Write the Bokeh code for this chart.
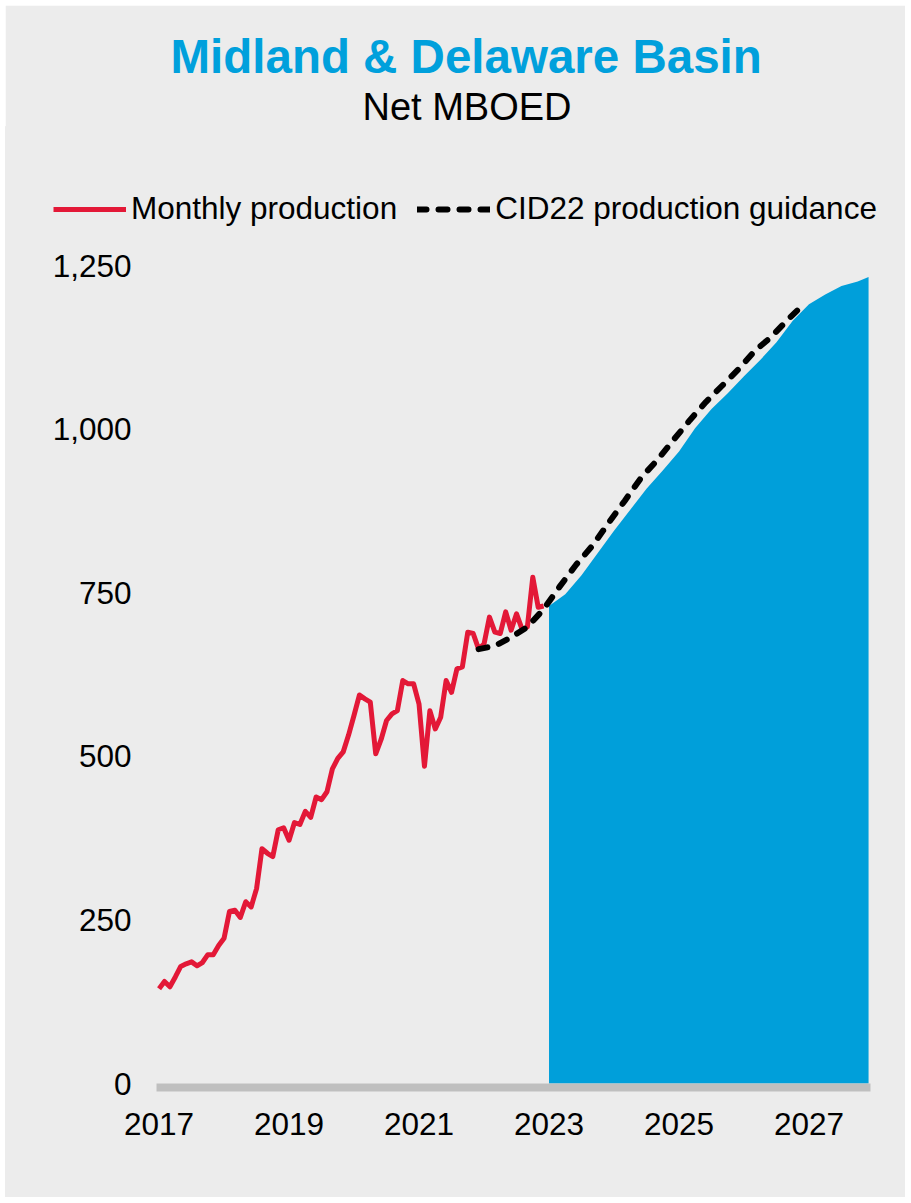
from bokeh.plotting import figure
from bokeh.models import (Range1d, FixedTicker, NumeralTickFormatter, Title,
                          Legend, LegendItem, ColumnDataSource)
from bokeh.embed import file_html
from bokeh.resources import INLINE

# ---------------- data ----------------
START_YEAR = 2017

# Monthly production, Jan 2017 - Dec 2022 (Net MBOED)
production = [
    145, 156, 148, 163, 179, 183, 186, 180, 185, 197, 197, 211,
    222, 263, 265, 254, 278, 270, 298, 359, 352, 347, 388, 391,
    372, 399, 396, 416, 407, 438, 434, 446, 481, 497, 507, 533,
    563, 594, 588, 583, 504, 526, 555, 565, 570, 616, 611, 611,
    580, 485, 570, 542, 560, 616, 598, 634, 637, 690, 688, 664,
    672, 713, 690, 688, 721, 693, 718, 695, 698, 774, 728, 730,
]

# CID22 production guidance (months after Jan 2017)
guidance_months = [59, 62, 65, 68, 71, 74, 77, 80, 83, 86, 89, 92, 95,
                   98, 101, 104, 107, 110, 113, 116, 119]
guidance = [664, 669, 682, 698, 725, 760, 793, 822, 857, 891, 926, 953,
            984, 1014, 1042, 1067, 1092, 1120, 1141, 1167, 1191]

# Outlook area (months after Jan 2017)
outlook_months = [72, 75, 78, 81, 84, 87, 90, 93, 96, 99, 102, 105, 108,
                  111, 114, 117, 120, 123, 126, 129, 131]
outlook = [730, 748, 777, 811, 845, 877, 909, 937, 966, 1002, 1031, 1055,
           1081, 1106, 1133, 1166, 1191, 1206, 1219, 1226, 1233]

x_ticks = [2017, 2019, 2021, 2023, 2025, 2027]
y_ticks = [0, 250, 500, 750, 1000, 1250]

title_text = "Midland & Delaware Basin"
subtitle_text = "Net MBOED"
legend_labels = ["Monthly production", "CID22 production guidance"]

# ---------------- styles ----------------
BG = "#ececec"
BLUE = "#009fda"
RED = "#e31837"
FONT = "Liberation Sans"

# plotted window (x in years, y in MBOED) inside the wider canvas range
X_LO, X_HI = 2016.96, 2027.946
Y_LO = -6

prod_src = ColumnDataSource(dict(
    x=[START_YEAR + i / 12 for i in range(len(production))], y=production))
guide_src = ColumnDataSource(dict(
    x=[START_YEAR + m / 12 for m in guidance_months], y=guidance))
out_src = ColumnDataSource(dict(
    x=[START_YEAR + m / 12 for m in outlook_months], y=outlook))

p = figure(width=900, height=1192, output_backend="svg", toolbar_location=None,
           title=None, title_location=None,
           x_range=Range1d(2014.637, 2028.485), y_range=Range1d(-174.13, 1461.35),
           background_fill_color=BG, border_fill_color=BG,
           outline_line_color=BG, outline_line_width=3,
           min_border=0, min_border_top=122)
p.margin = (5, 5, 5, 5)

p.varea(x="x", y1=0, y2="y", source=out_src, fill_color=BLUE)
red = p.line(x="x", y="y", source=prod_src, line_color=RED, line_width=5,
             line_join="round")
dash = p.line(x="x", y="y", source=guide_src, line_color="black",
              line_width=6, line_dash="9 12", line_cap="round")

p.grid.visible = False

xa = p.xaxis[0]
xa.fixed_location = Y_LO
xa.bounds = (X_LO, X_HI)
xa.ticker = FixedTicker(ticks=x_ticks)
xa.axis_line_color = "#bfbfbf"
xa.axis_line_width = 8
xa.major_tick_line_color = None
xa.minor_tick_line_color = None
xa.major_tick_out = 0
xa.major_tick_in = 0
xa.major_label_text_font = FONT
xa.major_label_text_font_size = "31.5px"
xa.major_label_text_color = "black"
xa.major_label_standoff = 25

ya = p.yaxis[0]
ya.fixed_location = X_LO
ya.bounds = (0, 1250)
ya.ticker = FixedTicker(ticks=y_ticks)
ya.formatter = NumeralTickFormatter(format="0,0")
ya.axis_line_color = None
ya.major_tick_line_color = None
ya.minor_tick_line_color = None
ya.major_tick_out = 0
ya.major_tick_in = 0
ya.major_label_text_font = FONT
ya.major_label_text_font_size = "31.5px"
ya.major_label_text_color = "black"
ya.major_label_standoff = 25

legend = Legend(items=[LegendItem(label=legend_labels[0], renderers=[red]),
                       LegendItem(label=legend_labels[1], renderers=[dash])],
                orientation="horizontal", location=(48, 970),
                glyph_width=73, glyph_height=20, label_standoff=5, spacing=20,
                padding=0, margin=0, border_line_color=None,
                background_fill_alpha=0,
                label_text_font=FONT, label_text_font_size="31.5px",
                label_text_color="black")
p.add_layout(legend, "center")

sub = Title(text=subtitle_text, align="left", offset=357, text_font=FONT,
            text_font_size="38px", text_font_style="normal",
            text_color="black", standoff=0)
main_title = Title(text=title_text, align="left", offset=165, text_font=FONT,
                   text_font_size="47.5px", text_font_style="bold",
                   text_color="#00a0dc", standoff=1)
p.add_layout(sub, "above")
p.add_layout(main_title, "above")

open("out.html", "w").write(file_html(p, INLINE))
